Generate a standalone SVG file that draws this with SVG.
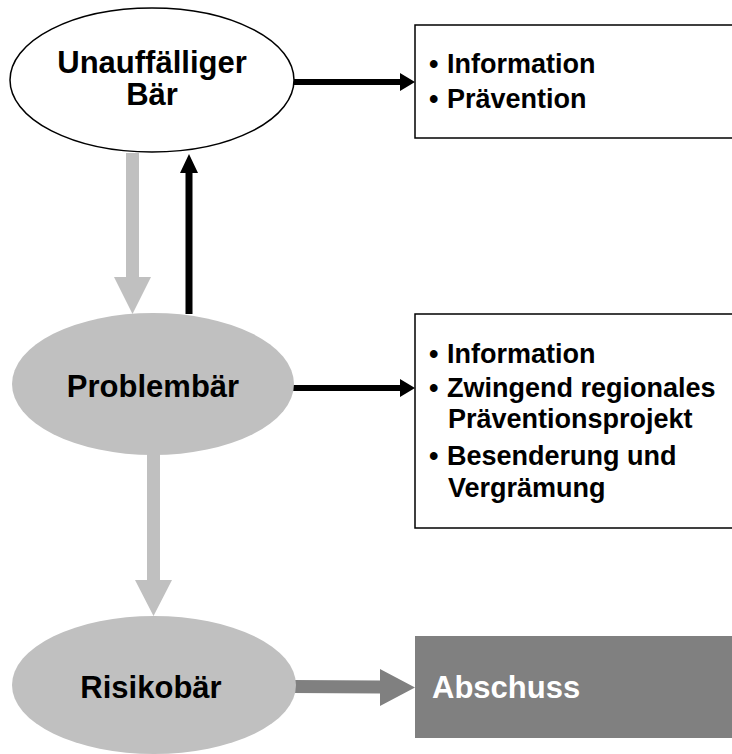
<svg xmlns="http://www.w3.org/2000/svg" width="732" height="754" viewBox="0 0 732 754">
<style>
text{font-family:"Liberation Sans",Arial,sans-serif;font-weight:bold;fill:#000}
.big{font-size:31px}
.item{font-size:27px}
.gray{fill:#c0c0c0}
.box{fill:#fff;stroke:#000;stroke-width:1.5}
</style>
<rect width="732" height="754" fill="#fff"/>
<g id="connectors">
  <!-- gray down: Unauffälliger -> Problembär -->
  <polygon class="gray" points="126,153 139,153 139,277 151,277 132.5,314 114,277 126,277"/>
  <!-- black up: Problembär -> Unauffälliger -->
  <polygon fill="#000" points="185.5,314 192.5,314 192.5,173 198,173 189,154 180,173 185.5,173"/>
  <!-- black right: Unauffälliger -> box1 -->
  <polygon fill="#000" points="294,79 400,79 400,73 415,82 400,91 400,85 294,85"/>
  <!-- black right: Problembär -> box2 -->
  <polygon fill="#000" points="293,385 400,385 400,379 415,388 400,397 400,391 293,391"/>
  <!-- gray down: Problembär -> Risikobär -->
  <polygon class="gray" points="147,454 160,454 160,580 172,580 153.5,616 135,580 147,580"/>
  <!-- dark gray right: Risikobär -> Abschuss -->
  <polygon fill="#808080" points="292,680 380,680.5 380,669 415,687.5 380,706 380,693.5 292,693"/>
</g>
<g id="node-unauffaellig">
  <ellipse cx="152" cy="80" rx="142" ry="72" fill="#fff" stroke="#000" stroke-width="1.5"/>
  <text class="big" x="152" y="73" text-anchor="middle">Unauffälliger</text>
  <text class="big" x="152" y="105" text-anchor="middle">Bär</text>
</g>
<g id="node-box1">
  <rect class="box" x="415" y="25" width="330" height="113"/>
  <text class="item" x="429" y="73">•</text><text class="item" x="447" y="73">Information</text>
  <text class="item" x="429" y="108">•</text><text class="item" x="447" y="108">Prävention</text>
</g>
<g id="node-problembaer">
  <ellipse class="gray" cx="153" cy="384" rx="141" ry="71"/>
  <text class="big" x="153" y="397" text-anchor="middle">Problembär</text>
</g>
<g id="node-box2">
  <rect class="box" x="415" y="314" width="330" height="214"/>
  <text class="item" x="429" y="363">•</text><text class="item" x="447" y="363">Information</text>
  <text class="item" x="429" y="397">•</text><text class="item" x="447" y="397">Zwingend regionales</text>
  <text class="item" x="448" y="428">Präventionsprojekt</text>
  <text class="item" x="429" y="465">•</text><text class="item" x="447" y="465">Besenderung und</text>
  <text class="item" x="448" y="497">Vergrämung</text>
</g>
<g id="node-risikobaer">
  <ellipse class="gray" cx="154" cy="685" rx="142" ry="69"/>
  <text class="big" x="151" y="698" text-anchor="middle">Risikobär</text>
</g>
<g id="node-abschuss">
  <rect x="415" y="636" width="317" height="102" fill="#808080"/>
  <text class="big" x="432" y="698" style="fill:#fff">Abschuss</text>
</g>
</svg>
